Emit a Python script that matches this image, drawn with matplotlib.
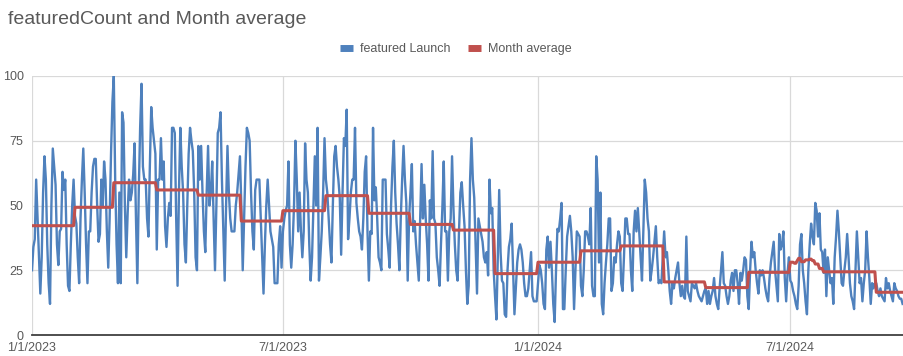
import matplotlib
matplotlib.use("Agg")
import matplotlib.pyplot as plt
from matplotlib.lines import Line2D
import pandas as pd

# --- Data (one value per day, starting Sun 1/1/2023) ---
q1_2023 = [
    25, 34, 37, 60, 45, 30, 16, 30, 55, 69, 60, 35, 20, 12, 50, 72, 65, 58, 35, 27, 40, 41, 63, 56, 60, 35, 19, 17, 35, 50, 60,  # Jan
    46, 43, 30, 20, 45, 60, 72, 55, 35, 20, 40, 40, 55, 65, 68, 68, 50, 36, 39, 60, 50, 67, 60, 40, 26, 45, 70, 90,  # Feb
    100, 60, 35, 20, 55, 20, 86, 82, 50, 30, 47, 60, 52, 55, 62, 74, 45, 20, 55, 80, 97, 65, 60, 60, 45, 38, 65, 88, 80, 75, 70,  # Mar
]
q2_2023 = [
    33, 60, 60, 76, 60, 67, 42, 34, 45, 51, 46, 80, 80, 78, 45, 19, 55, 80, 65, 55, 35, 28, 50, 70, 80, 75, 71, 55, 30, 25,  # Apr
    73, 60, 73, 55, 40, 32, 55, 73, 50, 55, 67, 45, 25, 50, 78, 80, 86, 60, 40, 21, 50, 73, 55, 45, 40, 40, 40, 50, 55, 62, 69,  # May
    50, 25, 45, 65, 80, 78, 75, 55, 40, 33, 56, 60, 60, 60, 45, 30, 16, 35, 50, 60, 50, 40, 37, 34, 20, 20, 20, 35, 42, 26,  # Jun
]
q3_2023 = [
    40, 45, 48, 50, 67, 35, 26, 35, 50, 75, 60, 40, 55, 40, 30, 40, 74, 60, 55, 35, 21, 30, 50, 69, 50, 80, 21, 30, 40, 55, 76,  # Jul
    60, 55, 45, 35, 28, 50, 69, 73, 65, 60, 53, 31, 55, 76, 73, 87, 37, 45, 55, 60, 60, 80, 51, 45, 40, 38, 33, 45, 63, 69, 40,  # Aug
    21, 40, 39, 80, 52, 57, 45, 30, 28, 25, 60, 60, 60, 39, 33, 26, 50, 65, 75, 55, 43, 35, 25, 45, 60, 73, 60, 51, 21, 45,  # Sep
]
q4_2023 = [
    55, 66, 40, 44, 35, 28, 21, 45, 66, 45, 58, 45, 35, 21, 52, 45, 71, 45, 43, 30, 25, 19, 35, 49, 67, 40, 40, 21, 40, 45, 69,  # Oct
    49, 35, 25, 21, 40, 55, 59, 50, 42, 25, 12, 19, 60, 76, 60, 53, 35, 16, 45, 42, 39, 36, 30, 28, 32, 23, 60, 47, 49, 25,  # Nov
    15, 6, 30, 56, 32, 21, 20, 8, 7, 25, 34, 37, 43, 25, 8, 18, 28, 33, 35, 33, 28, 20, 15, 15, 18, 25, 32, 15, 13, 13, 13,  # Dec
]
q1_2024 = [
    20, 27, 25, 20, 12, 10, 33, 38, 26, 36, 25, 12, 5, 25, 41, 40, 45, 51, 10, 10, 25, 38, 42, 46, 40, 30, 10, 25, 40, 39, 38,  # Jan
    19, 15, 25, 40, 40, 38, 35, 49, 19, 15, 15, 69, 60, 28, 55, 12, 8, 20, 28, 35, 45, 45, 17, 20, 30, 28, 35, 40, 38,  # Feb
    20, 17, 30, 45, 45, 39, 39, 25, 17, 40, 48, 40, 49, 40, 30, 21, 40, 60, 55, 45, 40, 21, 25, 30, 36, 42, 30, 20, 21, 20, 30,  # Mar
]
q2_2024 = [
    40, 30, 32, 25, 17, 12, 20, 18, 22, 25, 28, 20, 15, 19, 15, 14, 38, 17, 15, 13, 20, 19, 18, 20, 17, 15, 14, 13, 15, 17,  # Apr
    18, 12, 17, 12, 15, 17, 22, 15, 12, 10, 18, 25, 32, 20, 19, 15, 12, 15, 21, 24, 17, 25, 25, 20, 12, 24, 21, 25, 30, 29, 15,  # May
    10, 25, 36, 30, 32, 25, 20, 16, 25, 23, 25, 22, 18, 15, 13, 22, 28, 32, 36, 25, 19, 13, 39, 33, 35, 40, 22, 13, 24, 30,  # Jun
]
q3_2024 = [
    21, 20, 17, 15, 12, 10, 19, 35, 39, 25, 20, 13, 8, 25, 35, 43, 38, 35, 51, 48, 38, 47, 33, 32, 24, 33, 15, 30, 25, 20, 22,  # Jul
    12, 30, 38, 48, 40, 30, 20, 19, 25, 30, 39, 30, 20, 15, 13, 10, 25, 40, 30, 20, 22, 13, 20, 25, 40, 30, 22, 12, 20, 18, 20,  # Aug
    20, 17, 15, 18, 15, 14, 13, 22, 18, 20, 17, 15, 13, 20, 18, 17, 15, 14, 14, 12,  # Sep
]

# "Month average" series: value that holds from each date onward
avg_dates = ['2023-01-01', '2023-02-01', '2023-03-01', '2023-04-01', '2023-05-01', '2023-06-01',
             '2023-07-01', '2023-08-01', '2023-09-01', '2023-10-01', '2023-11-01', '2023-12-01',
             '2024-01-01', '2024-02-01', '2024-03-01', '2024-04-01', '2024-05-01', '2024-06-01',
             '2024-07-01', '2024-07-04', '2024-07-06', '2024-07-07', '2024-07-09', '2024-07-12',
             '2024-07-15', '2024-07-17', '2024-07-19', '2024-07-22', '2024-07-25', '2024-09-01']
avg_values = [42.2, 49.3, 58.8, 56.0, 54.0, 44.0,
              48.0, 53.8, 47.0, 42.7, 40.5, 23.7,
              28.1, 32.5, 34.4, 20.5, 18.3, 24.2,
              28.1, 27.7, 28.7, 29.6, 28.3, 29.0,
              29.3, 28.7, 27.4, 25.7, 24.4, 16.5]

tick_dates = ['2023-01-01', '2023-07-01', '2024-01-01', '2024-07-01']

counts = q1_2023 + q2_2023 + q3_2023 + q4_2023 + q1_2024 + q2_2024 + q3_2024
dates = pd.date_range('2023-01-01', periods=len(counts), freq='D')
daily = pd.Series(counts, index=dates)
month_avg = pd.Series(avg_values, index=pd.to_datetime(avg_dates)).reindex(dates, method='ffill')

# --- Style ---
TEXT = '#595959'
BLUE = '#4F81BD'
RED = '#C0504D'
plt.rcParams['font.family'] = ['Liberation Sans', 'DejaVu Sans']

fig = plt.figure(figsize=(9.04, 3.56), dpi=100)
W, H = 904, 356
ax = fig.add_axes([32 / W, 1 - 335 / H, (W - 32) / W, (335 - 76) / H])

ax.plot(daily.index, daily.values, color=BLUE, lw=1.7, solid_joinstyle='round', zorder=3)
ax.plot(month_avg.index, month_avg.values, color=RED, lw=2.2, zorder=4)

ax.set_ylim(0, 100)
ax.set_yticks([0, 25, 50, 75, 100])
ax.set_xlim(dates[0], dates[-1] + pd.Timedelta(days=1))
ticks = pd.to_datetime(tick_dates)
ax.set_xticks(ticks)
ax.set_xticklabels([f"{d.month}/{d.day}/{d.year}" for d in ticks])

ax.grid(True, color='#d9d9d9', lw=0.9, zorder=0)
ax.set_axisbelow(True)
for side in ['top', 'right', 'left']:
    ax.spines[side].set_visible(False)
ax.spines['bottom'].set_color('#404040')
ax.spines['bottom'].set_linewidth(1.3)
ax.spines['bottom'].set_zorder(5)
ax.tick_params(axis='both', length=0, labelsize=9, labelcolor=TEXT)
ax.tick_params(axis='x', pad=5)
ax.tick_params(axis='y', pad=6)

fig.text(8 / W, 1 - 20 / H, 'featuredCount and Month average', fontsize=14,
         color=TEXT, ha='left', va='center')

handles = [Line2D([], [], color=BLUE, lw=5, solid_capstyle='butt'),
           Line2D([], [], color=RED, lw=5, solid_capstyle='butt')]
fig.legend(handles, ['featured Launch', 'Month average'], loc='center',
           bbox_to_anchor=(456 / W, 1 - 49 / H), ncol=2, frameon=False,
           fontsize=9, labelcolor=TEXT, handlelength=1.0, handletextpad=0.6,
           columnspacing=1.4)

fig.savefig('out.png', dpi=100)
